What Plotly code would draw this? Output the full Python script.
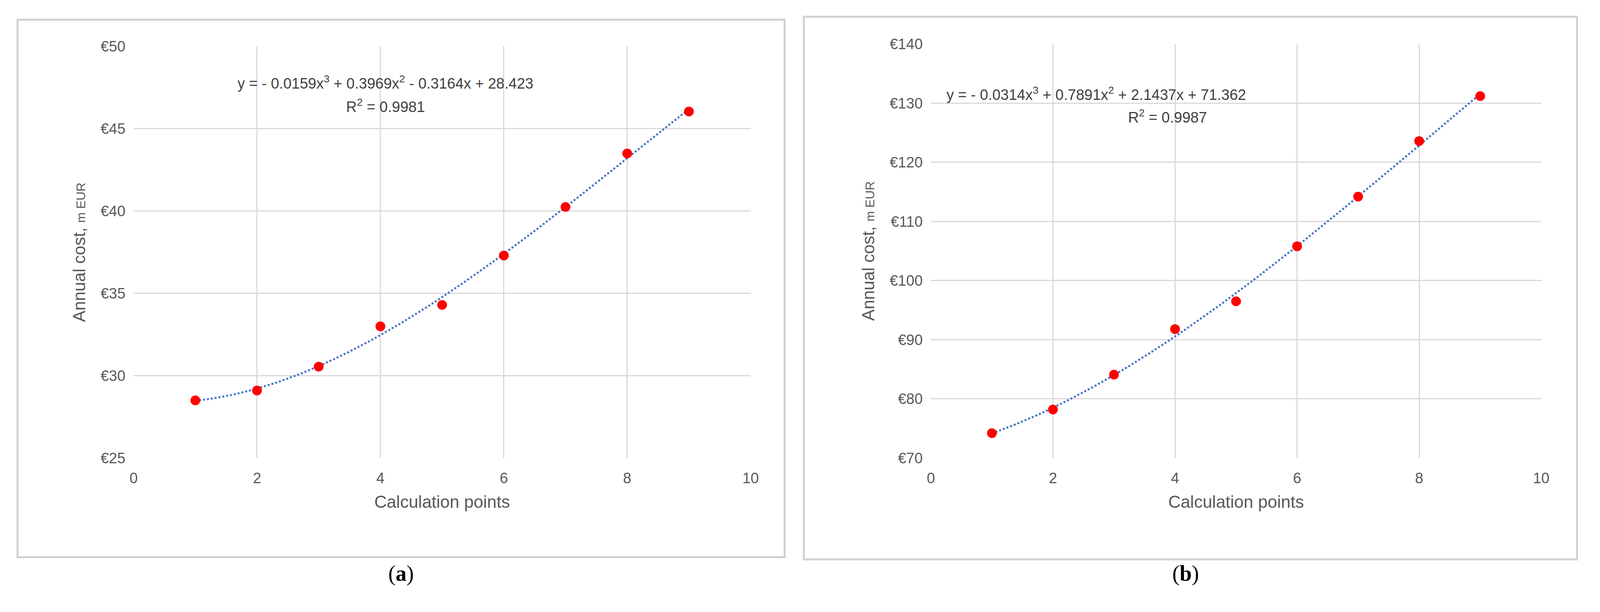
import numpy as np
import plotly.graph_objects as go

points = [1, 2, 3, 4, 5, 6, 7, 8, 9]
cost_a = [28.5, 29.1, 30.55, 33.0, 34.3, 37.3, 40.25, 43.5, 46.05]
cost_b = [74.2, 78.2, 84.1, 91.8, 96.5, 105.8, 114.2, 123.6, 131.2]
eq_a = ["y = - 0.0159x<sup>3</sup> + 0.3969x<sup>2</sup> - 0.3164x + 28.423", "R<sup>2</sup> = 0.9981"]
eq_b = ["y = - 0.0314x<sup>3</sup> + 0.7891x<sup>2</sup> + 2.1437x + 71.362", "R<sup>2</sup> = 0.9987"]

F = "Liberation Sans"
fig = go.Figure()
for vals, xa, ya in [(cost_a, "x", "y"), (cost_b, "x2", "y2")]:
    c = np.polyfit(points, vals, 3)
    xs = np.linspace(1, 9, 200)
    fig.add_trace(go.Scatter(x=xs, y=np.polyval(c, xs), mode="lines", xaxis=xa, yaxis=ya,
                             line=dict(color="#4472C4", width=5, dash="dot"), showlegend=False))
    fig.add_trace(go.Scatter(x=points, y=vals, mode="markers", xaxis=xa, yaxis=ya,
                             marker=dict(color="#FF0000", size=25), showlegend=False))

ax = dict(showgrid=True, gridcolor="#d9d9d9", gridwidth=3, zeroline=False, showline=False,
          tickfont=dict(family=F, size=38, color="#595959"), dtick=2, range=[0, 10], ticks="",
          ticklabelstandoff=25,
          title=dict(text="Calculation points", font=dict(family=F, size=44, color="#595959"), standoff=25))
ay = dict(showgrid=True, gridcolor="#d9d9d9", gridwidth=3, zeroline=False, showline=False, ticks="",
          tickfont=dict(family=F, size=38, color="#595959"), tickprefix="€", ticklabelstandoff=20,
          title=dict(text="Annual cost, <span style='font-size:32px'>m EUR</span>",
                     font=dict(family=F, size=44, color="#595959"), standoff=25))
fig.update_layout(
    autosize=True, margin=dict(l=0, r=0, t=0, b=0),
    paper_bgcolor="white", plot_bgcolor="white",
    xaxis=dict(ax, domain=[0.0798, 0.470], anchor="y"),
    yaxis=dict(ay, domain=[0.25, 0.941], range=[25, 50], dtick=5, anchor="x"),
    xaxis2=dict(ax, domain=[0.584, 0.970], anchor="y2"),
    yaxis2=dict(ay, domain=[0.25, 0.945], range=[70, 140], dtick=10, anchor="x2"),
)
for x0, y0, x1, y1 in [(28, 22, 2144, 1437), (2197, 14, 4330, 1443)]:
    fig.add_shape(type="rect", xref="paper", yref="paper", x0=x0/4362, x1=x1/4362,
                  y0=1-y1/1568, y1=1-y0/1568, line=dict(color="#d0d0d0", width=5))
for txt, (x, y) in zip(eq_a + eq_b, [(1043, 160), (1043, 222), (3004, 190), (3200, 250)]):
    fig.add_annotation(text=txt, xref="paper", yref="paper", x=x/4362, y=1-y/1568, showarrow=False,
                       xanchor="center", font=dict(family=F, size=38, color="#404040"))
for txt, x in [("(<b>a</b>)", 1086), ("(<b>b</b>)", 3250)]:
    fig.add_annotation(text=txt, xref="paper", yref="paper", x=x/4362, y=1-1515/1568, showarrow=False,
                       xanchor="center", font=dict(family="Liberation Serif", size=56, color="black"))
fig.write_html("out.html", config={"responsive": True}, default_width="100%", default_height="100vh")
